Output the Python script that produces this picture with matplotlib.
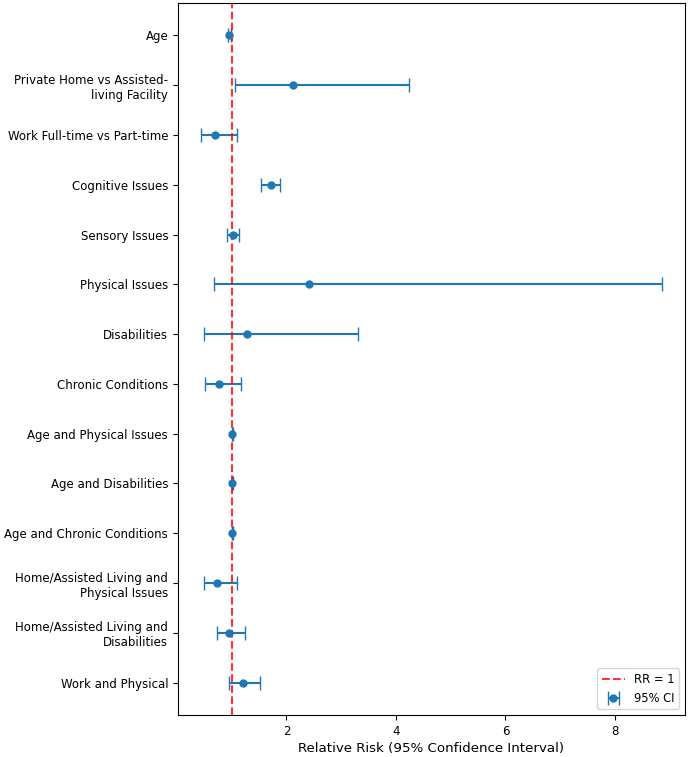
import matplotlib
matplotlib.use("Agg")
import matplotlib.pyplot as plt
import numpy as np

labels = [
    "Age",
    "Private Home vs Assisted-\nliving Facility",
    "Work Full-time vs Part-time",
    "Cognitive Issues",
    "Sensory Issues",
    "Physical Issues",
    "Disabilities",
    "Chronic Conditions",
    "Age and Physical Issues",
    "Age and Disabilities",
    "Age and Chronic Conditions",
    "Home/Assisted Living and\nPhysical Issues",
    "Home/Assisted Living and\nDisabilities",
    "Work and Physical",
]
rr = [0.96, 2.12, 0.70, 1.71, 1.03, 2.42, 1.28, 0.77, 1.01, 1.01, 1.01, 0.73, 0.96, 1.20]
ci_low = [0.94, 1.06, 0.44, 1.54, 0.92, 0.67, 0.50, 0.51, 1.00, 1.00, 1.00, 0.49, 0.74, 0.95]
ci_high = [0.98, 4.24, 1.10, 1.88, 1.14, 8.86, 3.30, 1.17, 1.02, 1.02, 1.02, 1.09, 1.25, 1.52]

rr_a = np.array(rr)
err = np.vstack([rr_a - np.array(ci_low), np.array(ci_high) - rr_a])
y = np.arange(len(labels))

fig = plt.figure(figsize=(6.89, 7.57), dpi=100)
ax = fig.add_axes([0.2583, 0.0555, 0.9942 - 0.2583, 0.996 - 0.0555])
ax.errorbar(rr_a, y, xerr=err, fmt='o', color='#1f77b4', capsize=5, markersize=5, label='95% CI')
ax.axvline(1, color='red', linestyle='--', alpha=0.8, label='RR = 1')
ax.set_yticks(y)
ax.set_yticklabels(labels)
ax.invert_yaxis()
ax.set_xticks([2, 4, 6, 8])
ax.tick_params(labelsize=8.5)
ax.set_xlabel("Relative Risk (95% Confidence Interval)", fontsize=9.6, labelpad=3)
ax.legend(loc='lower right', fontsize=8.3)
fig.savefig("out.png", dpi=100)
